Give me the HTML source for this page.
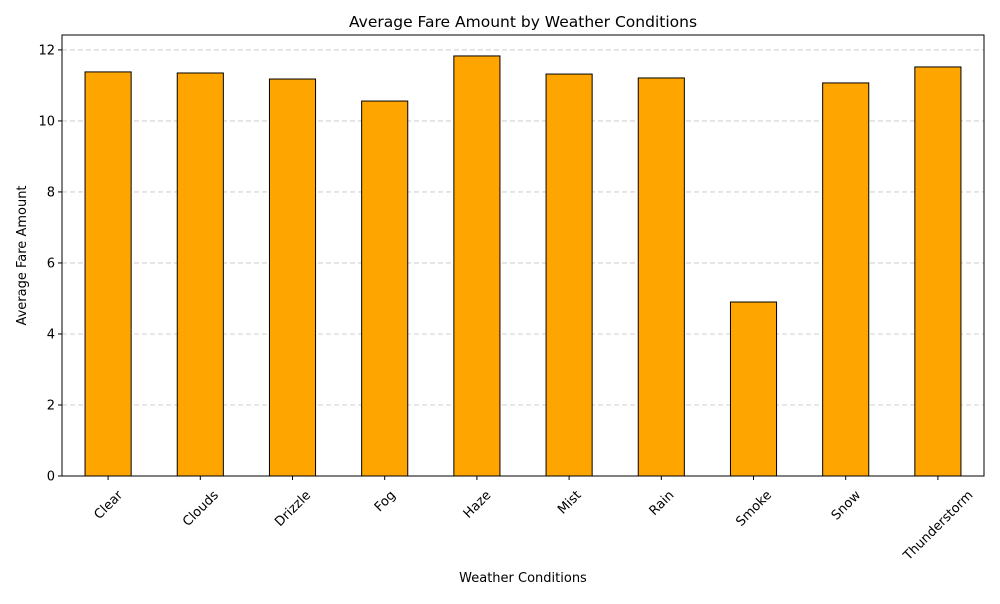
<!DOCTYPE html>
<html><head><meta charset="utf-8"><style>
body{margin:0;background:#fff;font-family:"DejaVu Sans","Liberation Sans",sans-serif;}
</style></head><body>
<svg id="chart" width="1000" height="600" xmlns="http://www.w3.org/2000/svg" font-family="DejaVu Sans, Liberation Sans, sans-serif"></svg>
<script>
const categories=["Clear","Clouds","Drizzle","Fog","Haze","Mist","Rain","Smoke","Snow","Thunderstorm"];
const fares=[11.38,11.35,11.18,10.56,11.83,11.32,11.21,4.90,11.07,11.52];
const yTicks=[0,2,4,6,8,10,12];
const NS="http://www.w3.org/2000/svg";
const svg=document.getElementById('chart');
const L=62,R=984,T=35,B=476,yMax=12.42;
const y=v=>B-(v/yMax)*(B-T);
const band=(R-L)/categories.length;
const xc=i=>L+band*(i+0.5);
function mk(tag,attrs,parent){const e=document.createElementNS(NS,tag);for(const k in attrs)e.setAttribute(k,attrs[k]);(parent||svg).appendChild(e);return e;}
yTicks.forEach(t=>{
  const g=mk('line',{x1:L,x2:R,y1:y(t),y2:y(t),stroke:'#c4c4c4','stroke-dasharray':'5,3','stroke-width':0.8});
  
  
  const tk=mk('line',{x1:L-4,x2:L,y1:y(t),y2:y(t),stroke:'#000'});
  
  
  const lb=mk('text',{x:L-7,y:y(t)+4.5,'text-anchor':'end','font-size':13});
  lb.textContent=t;
  
  
});
categories.forEach((c,i)=>{
  const w=band*0.5;
  const r=mk('rect',{x:xc(i)-w/2,y:y(fares[i]),width:w,height:B-y(fares[i]),fill:'#ffa500',stroke:'#000','stroke-width':1});
  
  
  const tk=mk('line',{x1:xc(i),x2:xc(i),y1:B,y2:B+4,stroke:'#000'});
  
  
  const lb=mk('text',{x:xc(i),y:0,'text-anchor':'middle','font-size':13});
  lb.textContent=c;
  
  
  const len=lb.getComputedTextLength();
  const ext=(len+13)*0.7071;
  const cy=B+12+ext/2;
  lb.setAttribute('y',cy+4.5);
  lb.setAttribute('transform',`rotate(-45 ${xc(i)} ${cy})`);
});
const fr=mk('rect',{x:L,y:T,width:R-L,height:B-T,fill:'none',stroke:'#000','stroke-width':1});


const ti=mk('text',{x:(L+R)/2,y:27,'text-anchor':'middle','font-size':15.5});
ti.textContent='Average Fare Amount by Weather Conditions';


const xt=mk('text',{x:(L+R)/2,y:582,'text-anchor':'middle','font-size':13});
xt.textContent='Weather Conditions';


const yt=mk('text',{x:26,y:(T+B)/2,'text-anchor':'middle','font-size':13,transform:`rotate(-90 26 ${(T+B)/2})`});
yt.textContent='Average Fare Amount';


</script>
</body></html>
